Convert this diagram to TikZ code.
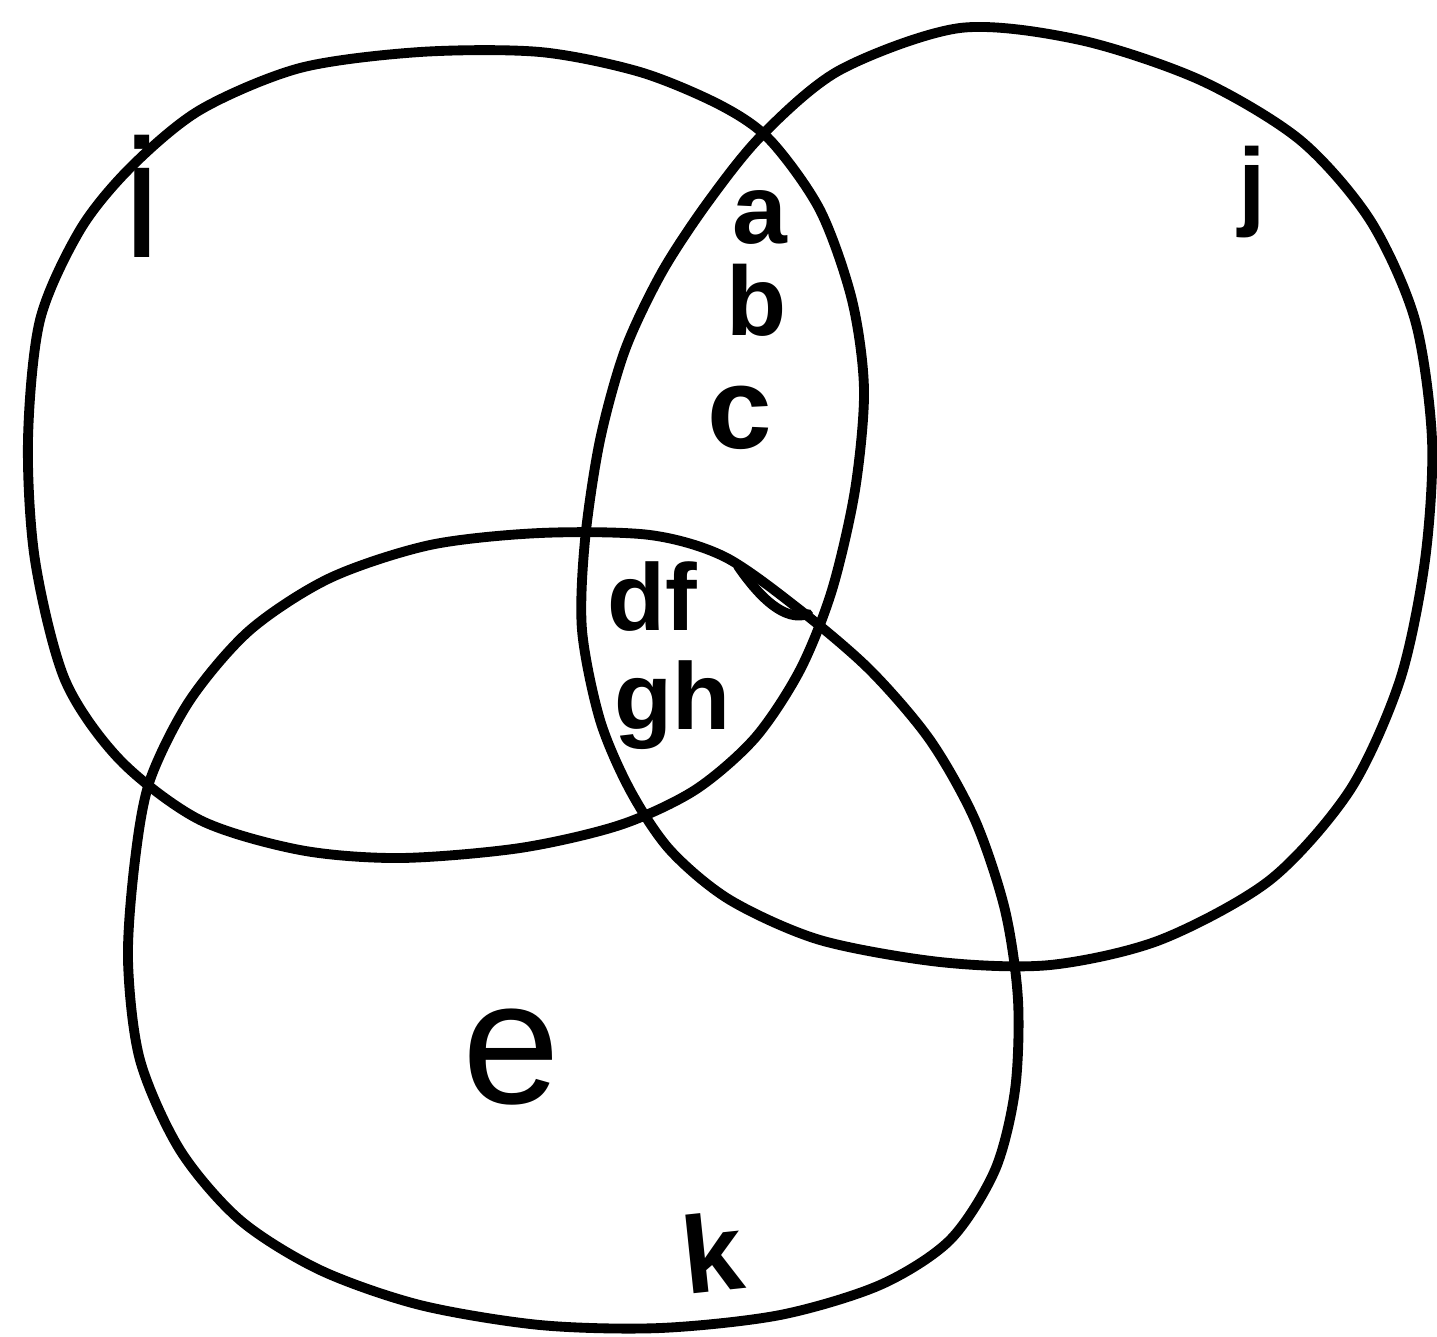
\documentclass[tikz,border=0pt]{standalone}
\usepackage{fontspec}
\setmainfont{Liberation Sans}
\begin{document}
\begin{tikzpicture}[x=0.01cm,y=-0.01cm,
  setline/.style={line width=2.8pt, line join=round, line cap=round},
  lab/.style={inner sep=0pt, font=\bfseries\fontsize{#1}{#1}\selectfont},
  biglab/.style={inner sep=0pt, font=\fontsize{#1}{#1}\selectfont}]
\useasboundingbox[fill=white] (0,0) rectangle (1437,1336);
% set i
\draw[setline] plot[smooth cycle] coordinates {
 (130,168) (200,110) (300,68) (420,52) (540,52) (640,72) (720,105) (770,140)
 (820,210) (852,300) (864,390) (855,490) (832,590) (800,670) (755,738) (695,790)
 (620,825) (520,848) (400,858) (300,850) (200,820) (120,760) (65,680) (35,560)
 (28,440) (40,320) (80,230)};
% set j
\draw[setline] plot[smooth cycle] coordinates {
 (960,28) (1080,40) (1200,80) (1300,140) (1370,220) (1415,320) (1432,440)
 (1425,560) (1400,680) (1350,790) (1270,880) (1160,940) (1050,965) (940,962)
 (820,940) (730,900) (670,850) (630,790) (600,720) (582,630) (585,540) (600,440)
 (625,350) (662,272) (708,202) (762,135) (840,70)};
% set k
\draw[setline] plot[smooth cycle] coordinates {
 (330,578) (430,545) (540,533) (650,535) (725,557) (800,610) (870,670) (930,740)
 (975,820) (1005,910) (1018,1000) (1015,1090) (995,1170) (950,1240) (880,1285)
 (780,1315) (660,1328) (540,1325) (420,1305) (320,1270) (240,1220) (180,1150)
 (140,1060) (128,960) (135,860) (150,780) (190,700) (250,630)};
% small double stroke
\draw[setline] (738,566) .. controls (760,598) and (785,622) .. (808,614);
% labels
\node[biglab=48] (li) at (142,196) {i};
\node[lab=28] (lj) at (1252,192) {j};
\node[lab=28] (la) at (760,217) {a};
\node[lab=28] (lb) at (757,300) {b};
\node[lab=33] (lc) at (740,418) {c};
\node[lab=27] (ldf) at (652,597) {df};
\node[lab=27] (lgh) at (672,705) {gh};
\node[biglab=50] (le) at (511,1057) {e};
\node[lab=31, rotate=6] (lk) at (713,1252) {k};
\end{tikzpicture}
\end{document}
